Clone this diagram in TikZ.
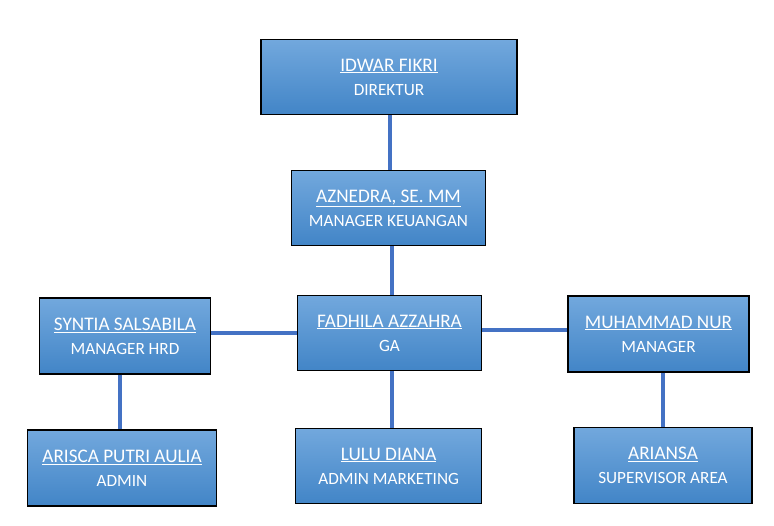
\documentclass[tikz,border=0pt]{standalone}
\usepackage{fontspec}
\setmainfont{Carlito}
\usepackage{tikz}
\usetikzlibrary{arrows}

\definecolor{boxtop}{RGB}{114,168,221}
\definecolor{boxmid}{RGB}{84,151,216}
\definecolor{boxbot}{RGB}{66,133,199}
\definecolor{linkblue}{RGB}{68,114,196}

\tikzset{
    person/.style={draw=black, line width=1.1pt, top color=boxtop, middle color=boxmid,
        bottom color=boxbot, text=white, align=center, inner sep=0pt,
        font=\fontsize{19.2}{24}\selectfont},
    link/.style={draw=linkblue, line width=4pt}
}
\newcommand{\who}[2]{\underline{#1}\\{\fontsize{17.2}{24}\selectfont #2}}

\begin{document}
\begin{tikzpicture}[x=1pt, y=-1pt]
        \useasboundingbox (0, 0) rectangle (774, 526);
        % boxes
        \node[person, minimum width=256, minimum height=75] (idwar) at (389, 77) {\who{IDWAR FIKRI}{DIREKTUR}};
        \node[person, minimum width=194, minimum height=75] (aznedra) at (388.5, 208) {\who{AZNEDRA, SE. MM}{MANAGER KEUANGAN}};
        \node[person, minimum width=171, minimum height=76] (syntia) at (125, 336) {\who{SYNTIA SALSABILA}{MANAGER HRD}};
        \node[person, minimum width=184, minimum height=75] (fadhila) at (389.5, 333) {\who{FADHILA AZZAHRA}{GA}};
        \node[person, minimum width=181, minimum height=76] (nur) at (658.5, 334) {\who{MUHAMMAD NUR}{MANAGER}};
        \node[person, minimum width=189, minimum height=76] (arisca) at (122, 468) {\who{ARISCA PUTRI AULIA}{ADMIN}};
        \node[person, minimum width=186, minimum height=75] (lulu) at (388.7, 466) {\who{LULU DIANA}{ADMIN MARKETING}};
        \node[person, minimum width=178, minimum height=76] (ariansa) at (663, 465.3) {\who{ARIANSA}{SUPERVISOR AREA}};
        % links
        \draw[link] ([xshift=1.3]idwar.south) -- ([xshift=1.3]idwar.south |- aznedra.north);
        \draw[link] ([xshift=3]aznedra.south) -- ([xshift=3]aznedra.south |- fadhila.north);
        \draw[link] ([xshift=2]fadhila.south) -- ([xshift=2]fadhila.south |- lulu.north);
        \draw[link] ([yshift=3]fadhila.east) -- ([yshift=3]fadhila.east -| nur.west);
        \draw[link] ([yshift=3.3]syntia.east) -- ([yshift=3.3]syntia.east -| fadhila.west);
        \draw[link] ([xshift=-5]syntia.south) -- ([xshift=-5]syntia.south |- arisca.north);
        \draw[link] ([xshift=4.8]nur.south) -- ([xshift=4.8]nur.south |- ariansa.north);
\end{tikzpicture}
\end{document}
